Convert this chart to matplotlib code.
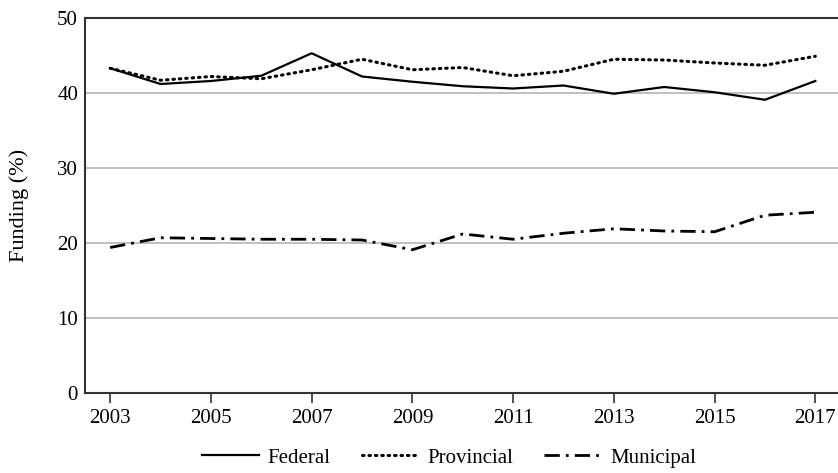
import matplotlib
matplotlib.use("Agg")
import matplotlib.pyplot as plt

years = list(range(2003, 2018))
federal = [43.3, 41.2, 41.6, 42.3, 45.3, 42.2, 41.5, 40.9, 40.6, 41.0, 39.9, 40.8, 40.1, 39.1, 41.6]
provincial = [43.3, 41.7, 42.2, 41.9, 43.1, 44.5, 43.1, 43.4, 42.3, 42.9, 44.5, 44.4, 44.0, 43.7, 44.9]
municipal = [19.4, 20.7, 20.6, 20.5, 20.5, 20.4, 19.1, 21.2, 20.5, 21.3, 21.9, 21.6, 21.5, 23.7, 24.1]
xticks = list(range(2003, 2018, 2))
yticks = [0, 10, 20, 30, 40, 50]

plt.rcParams['font.family'] = ['Liberation Serif', 'DejaVu Serif']
fig = plt.figure(figsize=(8.38, 4.73), dpi=100)
ax = fig.add_axes([85/838, 1-393/473, (838-85)/838, (393-18)/473])

ax.plot(years, federal, color='black', lw=1.6, linestyle='-', label='Federal')
ax.plot(years, provincial, color='black', lw=2.2, linestyle=(0, (0.5, 1.6)),
        dash_capstyle='round', label='Provincial')
ax.plot(years, municipal, color='black', lw=2.0, linestyle=(0, (5.5, 2.2, 1, 2.2)),
        label='Municipal')

ax.set_xlim(2002.5, 2017.45)
ax.set_ylim(0, 50)
ax.set_xticks(xticks)
ax.set_yticks(yticks)
ax.yaxis.grid(True, color='#bbbbbb', lw=1.3)
ax.set_axisbelow(True)
ax.tick_params(axis='y', length=0, labelsize=15, pad=5)
ax.tick_params(axis='x', length=7.5, width=1.2, color='#333333', labelsize=15, pad=4)
for s in ['left', 'bottom', 'top']:
    ax.spines[s].set_color('#333333')
    ax.spines[s].set_linewidth(1.5)
ax.spines['right'].set_visible(False)
ax.set_ylabel('Funding (%)', fontsize=16, labelpad=20)

ax.legend(loc='center', bbox_to_anchor=(0.483, -65/375), ncol=3, frameon=False,
          fontsize=15, handlelength=2.75, handletextpad=0.4, columnspacing=1.5)

fig.savefig('out.png', dpi=100)
